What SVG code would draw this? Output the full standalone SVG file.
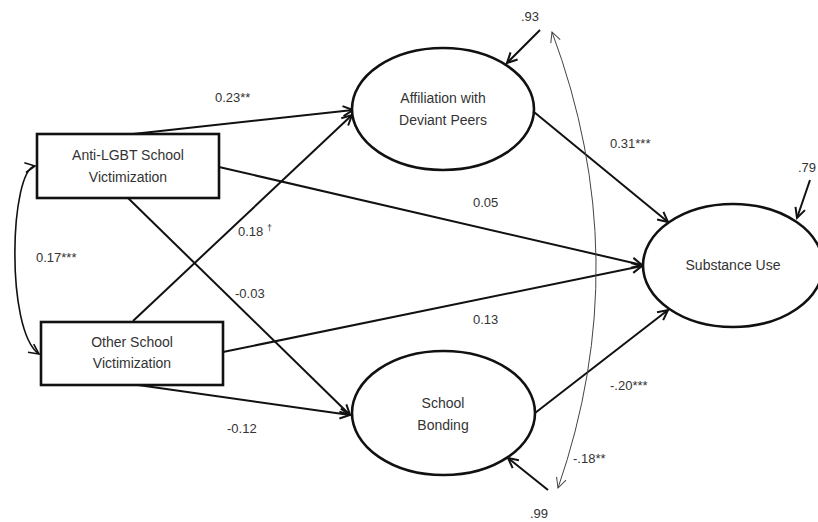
<svg xmlns="http://www.w3.org/2000/svg" width="818" height="522" viewBox="0 0 818 522">
<style>
.box{fill:#fff;stroke:#111;stroke-width:2.6}
.ell{fill:#fff;stroke:#111;stroke-width:2.6}
.node{font-family:"Liberation Sans",Arial,sans-serif;font-size:14px;fill:#333;text-anchor:middle}
.lbl{font-family:"Liberation Sans",Arial,sans-serif;font-size:13px;fill:#333}
.sup{font-size:9px}
.edge{fill:none;stroke:#111;stroke-width:2;marker-end:url(#ah)}
.cov{fill:none;stroke:#444;stroke-width:1;marker-start:url(#ahs);marker-end:url(#ahe)}
.cov2{fill:none;stroke:#111;stroke-width:1.6;marker-start:url(#ahs2);marker-end:url(#ahe2)}
</style>
<defs>
<marker id="ah" viewBox="0 0 12 12" refX="10" refY="5" markerWidth="12" markerHeight="12" markerUnits="userSpaceOnUse" orient="auto" overflow="visible">
<path d="M0,0 L10,5 L0,10" fill="none" stroke="#111" stroke-width="2"/>
</marker>
<marker id="ahe" viewBox="0 0 12 12" refX="10" refY="5" markerWidth="12" markerHeight="12" markerUnits="userSpaceOnUse" orient="auto" overflow="visible">
<path d="M0,0 L10,5 L0,10" fill="none" stroke="#444" stroke-width="1"/>
</marker>
<marker id="ahs" viewBox="0 0 12 12" refX="0" refY="5" markerWidth="12" markerHeight="12" markerUnits="userSpaceOnUse" orient="auto" overflow="visible">
<path d="M10,0 L0,5 L10,10" fill="none" stroke="#444" stroke-width="1"/>
</marker>
<marker id="ahe2" viewBox="0 0 12 12" refX="10" refY="5" markerWidth="12" markerHeight="12" markerUnits="userSpaceOnUse" orient="auto" overflow="visible">
<path d="M0,0 L10,5 L0,10" fill="none" stroke="#111" stroke-width="1.6"/>
</marker>
<marker id="ahs2" viewBox="0 0 12 12" refX="0" refY="5" markerWidth="12" markerHeight="12" markerUnits="userSpaceOnUse" orient="auto" overflow="visible">
<path d="M10,0 L0,5 L10,10" fill="none" stroke="#111" stroke-width="1.6"/>
</marker>
</defs>
<rect width="818" height="522" fill="#fff"/>
<g id="connectors">
<path class="edge" d="M133,134 L353,110"/>
<path class="edge" d="M133,321 L352,115"/>
<path class="edge" d="M219,167 L642,265"/>
<path class="edge" d="M128,198 L350,415"/>
<path class="edge" d="M223,352 L642,266"/>
<path class="edge" d="M138,385 L350,415"/>
<path class="edge" d="M534,112 L668,222"/>
<path class="edge" d="M535,413 L668,310"/>
<path class="edge" d="M540,30 L507,63"/>
<path class="edge" d="M810,180 L797,218"/>
<path class="edge" d="M548,490 L508,458"/>
<path class="cov" d="M552,32 Q637,260 558,488"/>
<path class="cov2" d="M35,166 C10,170 5,330 39,354"/>
</g>
<g id="anti_lgbt">
<rect class="box" x="37" y="134" width="182" height="64"/>
<text class="node" x="128" y="160">Anti-LGBT School</text>
<text class="node" x="128" y="182">Victimization</text>
</g>
<g id="other">
<rect class="box" x="41" y="322" width="182" height="63"/>
<text class="node" x="132" y="347">Other School</text>
<text class="node" x="132" y="368">Victimization</text>
</g>
<g id="affiliation">
<ellipse class="ell" cx="443" cy="109" rx="91" ry="61"/>
<text class="node" x="443" y="103">Affiliation with</text>
<text class="node" x="443" y="125">Deviant Peers</text>
</g>
<g id="bonding">
<ellipse class="ell" cx="443.5" cy="413" rx="91.5" ry="62"/>
<text class="node" x="443" y="408">School</text>
<text class="node" x="443" y="430">Bonding</text>
</g>
<g id="substance">
<ellipse class="ell" cx="733" cy="265.5" rx="90" ry="61.5"/>
<text class="node" x="733" y="270">Substance Use</text>
</g>
<g id="labels">
<text class="lbl" x="215" y="102">0.23**</text>
<text class="lbl" x="610" y="148">0.31***</text>
<text class="lbl" x="473" y="207">0.05</text>
<text class="lbl" x="473" y="324">0.13</text>
<text class="lbl" x="238" y="236">0.18 <tspan class="sup" dy="-5">†</tspan></text>
<text class="lbl" x="235" y="298">-0.03</text>
<text class="lbl" x="227" y="433">-0.12</text>
<text class="lbl" x="610" y="390">-.20***</text>
<text class="lbl" x="573" y="463">-.18**</text>
<text class="lbl" x="530" y="518">.99</text>
<text class="lbl" x="521" y="21">.93</text>
<text class="lbl" x="798" y="172">.79</text>
<text class="lbl" x="36" y="262">0.17***</text>
</g>
</svg>
